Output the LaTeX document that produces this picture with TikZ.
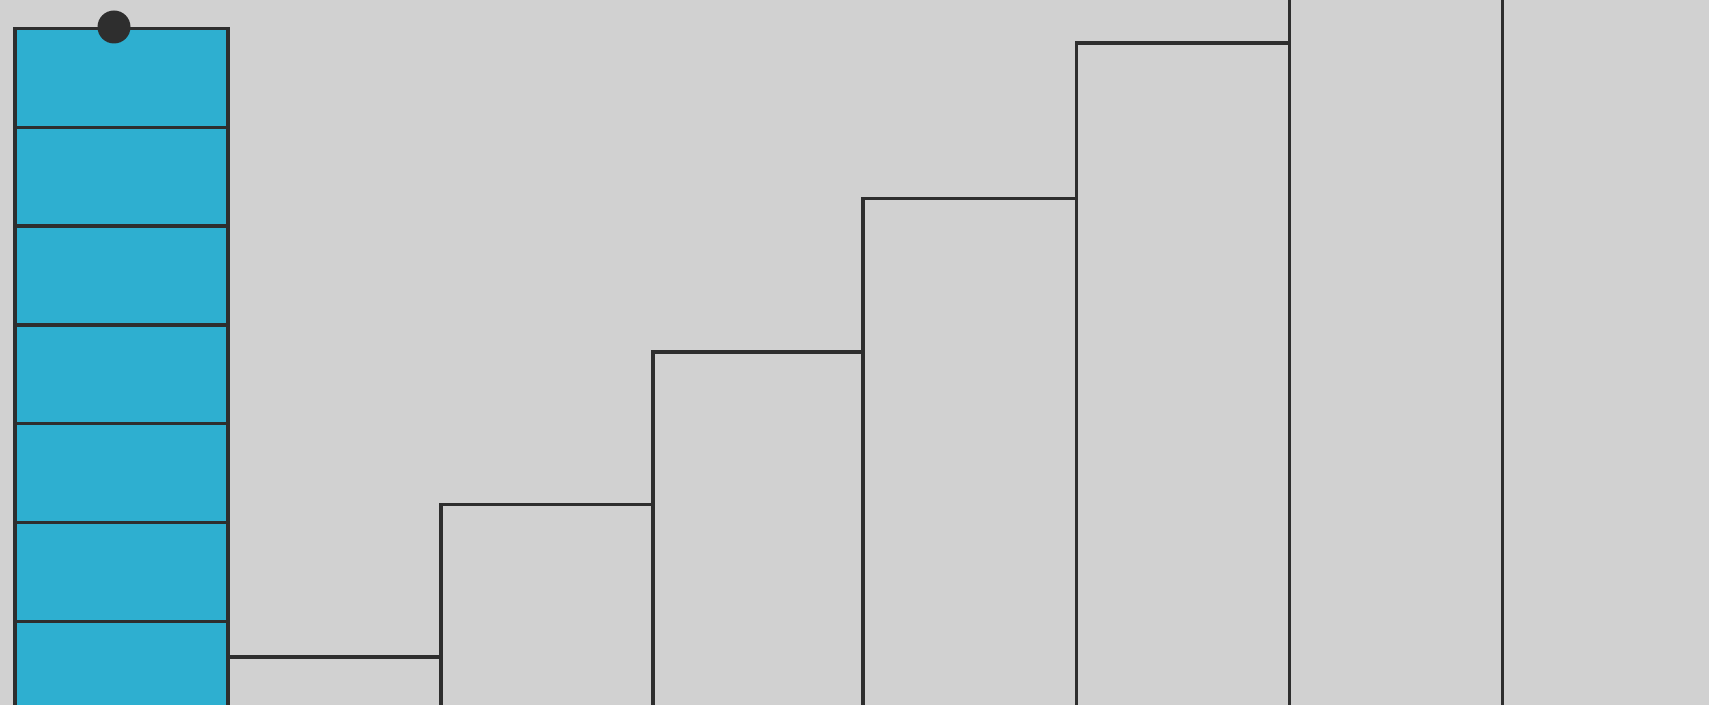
\documentclass[tikz,border=0pt]{standalone}
\definecolor{bg}{HTML}{D1D1D1}
\definecolor{ink}{HTML}{2E2E2E}
\definecolor{cellblue}{HTML}{2EAFD0}
\begin{document}
\begin{tikzpicture}[x=0.5pt,y=-0.5pt,
  edge/.style={draw=ink,line width=1.75pt},
  bar/.style={edge,fill=bg},
  cell/.style={edge,fill=cellblue},
  marker/.style={fill=ink,draw=none}]
\fill[bg] (0,0) rectangle (1709,705);
\useasboundingbox (0,0) rectangle (1709,705);
\clip (0,0) rectangle (1709,705);
% staircase bars
\foreach \xa/\xb/\yt in {228/441/657, 441/653/504.5, 653/863.2/352, 863.2/1076.5/198.5, 1076.5/1289.5/43, 1289.5/1502.5/-110, 1502.5/1716/-263}
  \draw[bar] (\xa,\yt) rectangle (\xb,740);
% blue column of cells
\foreach \i in {0,...,6}
  \draw[cell] (15,{28.5+98.8*\i}) rectangle (228,{28.5+98.8*(\i+1)});
% marker on top
\fill[marker] (114,27) circle (16.5);
\end{tikzpicture}
\end{document}
